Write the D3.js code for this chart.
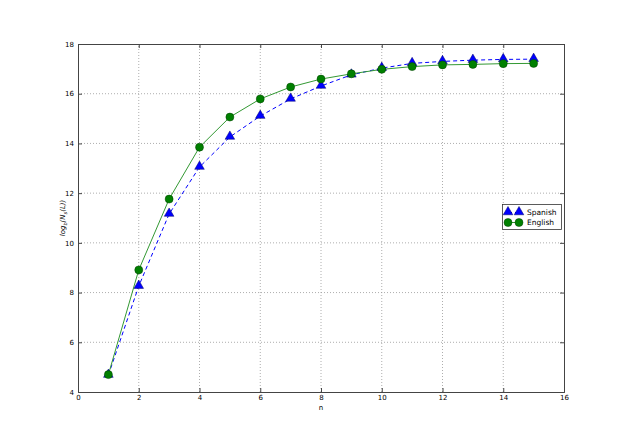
<!DOCTYPE html>
<html><head><meta charset="utf-8">
<script src="https://cdn.jsdelivr.net/npm/d3@7"></script>
<style>body{margin:0;background:#fff}svg{display:block}</style>
</head><body>
<script>
const ns = [1,2,3,4,5,6,7,8,9,10,11,12,13,14,15];
const spanish = [4.68,8.26,11.16,13.05,14.26,15.10,15.79,16.31,16.76,17.03,17.22,17.30,17.35,17.38,17.39];
const english = [4.70,8.91,11.76,13.85,15.06,15.79,16.27,16.59,16.80,16.98,17.09,17.16,17.18,17.21,17.22];
const xTicks = [0,2,4,6,8,10,12,14,16];
const yTicks = [4,6,8,10,12,14,16,18];

const W=627,H=436;
const svg=d3.select("body").append("svg").attr("width",W).attr("height",H);
const x=d3.scaleLinear().domain([0,16]).range([78,564]);
const y=d3.scaleLinear().domain([4,18]).range([392,44]);
const font="DejaVu Sans";

// grid
const g=svg.append("g");
g.selectAll(".gx").data(xTicks.slice(1,-1)).join("line")
 .attr("x1",d=>x(d)).attr("x2",d=>x(d)).attr("y1",y(4)).attr("y2",y(18))
 .attr("stroke","#999").attr("stroke-width",0.8).attr("stroke-dasharray","1,2");
g.selectAll(".gy").data(yTicks.slice(1,-1)).join("line")
 .attr("x1",x(0)).attr("x2",x(16)).attr("y1",d=>y(d)).attr("y2",d=>y(d))
 .attr("stroke","#999").attr("stroke-width",0.8).attr("stroke-dasharray","1,2");

// axes with inward ticks
const xa=svg.append("g").attr("transform",`translate(0,${y(4)})`)
 .call(d3.axisBottom(x).tickValues(xTicks).tickSize(-4).tickPadding(3).tickFormat(d3.format("d")));
const xa2=svg.append("g").attr("transform",`translate(0,${y(18)})`)
 .call(d3.axisTop(x).tickValues(xTicks).tickSize(-4).tickFormat(""));
const ya=svg.append("g").attr("transform",`translate(${x(0)},0)`)
 .call(d3.axisLeft(y).tickValues(yTicks).tickSize(-4).tickPadding(4).tickFormat(d3.format("d")));
const ya2=svg.append("g").attr("transform",`translate(${x(16)},0)`)
 .call(d3.axisRight(y).tickValues(yTicks).tickSize(-4).tickFormat(""));
[xa,xa2,ya,ya2].forEach(a=>{
  a.selectAll(".domain").attr("stroke","#444").attr("stroke-width",1);
  a.selectAll(".tick line").attr("stroke","#444");
  a.selectAll("text").attr("font-family",font).attr("font-size",7).attr("fill","#000");
});

// labels
svg.append("text").attr("x",x(8)).attr("y",410).attr("text-anchor","middle")
 .attr("font-family",font).attr("font-size",7).text("n");
const yl=svg.append("text").attr("transform",`translate(65,${y(11)}) rotate(-90)`)
 .attr("text-anchor","middle").attr("font-family",font).attr("font-size",7).attr("font-style","italic");
yl.append("tspan").text("log");
yl.append("tspan").attr("font-size",5).attr("dy",2).text("b");
yl.append("tspan").attr("dy",-2).text("(N");
yl.append("tspan").attr("font-size",5).attr("dy",2).text("s");
yl.append("tspan").attr("dy",-2).text("(L))");

const sp=ns.map((n,i)=>[n,spanish[i]]);
const en=ns.map((n,i)=>[n,english[i]]);
const line=d3.line().x(d=>x(d[0])).y(d=>y(d[1]));

svg.append("path").attr("d",line(sp)).attr("fill","none").attr("stroke","#0000ff").attr("stroke-width",1).attr("stroke-dasharray","4,3");
svg.append("path").attr("d",line(en)).attr("fill","none").attr("stroke","#339933").attr("stroke-width",1);

const tri=d3.symbol().type(d3.symbolTriangle).size(40);
svg.selectAll(".sp").data(sp).join("path")
 .attr("d",tri).attr("transform",d=>`translate(${x(d[0])},${y(d[1])-0.5})`)
 .attr("fill","#0000ff").attr("stroke","#000066").attr("stroke-width",0.5);
svg.selectAll(".en").data(en).join("circle")
 .attr("cx",d=>x(d[0])).attr("cy",d=>y(d[1])).attr("r",4)
 .attr("fill","#008000").attr("stroke","#004000").attr("stroke-width",0.5);

// legend
const lg=svg.append("g");
lg.append("rect").attr("x",502.5).attr("y",204.5).attr("width",59).attr("height",25)
 .attr("fill","#fff").attr("stroke","#333").attr("stroke-width",0.8);
const rows=[{name:"Spanish",c:"#0000ff",t:"tri",dash:"4,3"},{name:"English",c:"#339933",t:"circ",dash:null}];
rows.forEach((r,i)=>{
  const yy=212.5+i*10;
  lg.append("line").attr("x1",508).attr("x2",519).attr("y1",yy).attr("y2",yy)
   .attr("stroke",r.c).attr("stroke-width",1).attr("stroke-dasharray",r.dash);
  [508,519].forEach(xx=>{
    if(r.t==="tri") lg.append("path").attr("d",tri).attr("transform",`translate(${xx},${yy-0.5})`).attr("fill","#0000ff").attr("stroke","#000066").attr("stroke-width",0.5);
    else lg.append("circle").attr("cx",xx).attr("cy",yy).attr("r",4).attr("fill","#008000").attr("stroke","#004000").attr("stroke-width",0.5);
  });
  lg.append("text").attr("x",527).attr("y",yy+2.5).attr("font-family",font).attr("font-size",7.5).text(r.name);
});
</script>
</body></html>
